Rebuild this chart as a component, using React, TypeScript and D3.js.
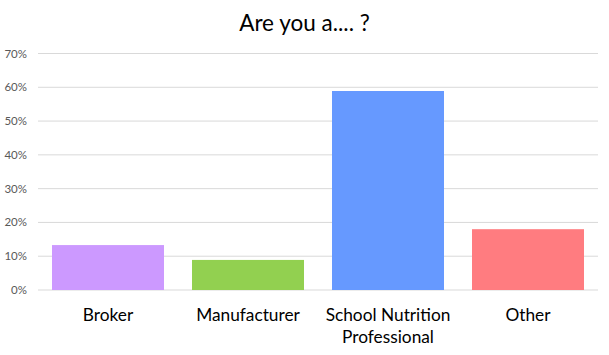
import React from "react";
import * as d3 from "d3";

const categories = ["Broker", "Manufacturer", "School Nutrition Professional", "Other"];
const values = [0.133, 0.089, 0.589, 0.18];
const colors = ["#CC99FF", "#92D050", "#6699FF", "#FF7C80"];
const yTicks = [0, 0.1, 0.2, 0.3, 0.4, 0.5, 0.6, 0.7];
const labelLines: Record<string, string[]> = {
  "School Nutrition Professional": ["School Nutrition", "Professional"],
};

export default function App() {
  const W = 609, H = 355;
  const left = 38, right = 598, top = 53.5, bottom = 290;
  const x = d3.scaleBand<string>().domain(categories).range([left, right]).paddingInner(0.2).paddingOuter(0.1);
  const y = d3.scaleLinear().domain([0, 0.7]).range([bottom, top]);
  const fmt = d3.format(".0%");
  const font = "Lato, 'Open Sans', sans-serif";
  return (
    <svg width={W} height={H} style={{ position: "absolute", left: 0, top: 0, background: "#fff" }} fontFamily={font}>
      <text x={W / 2} y={31} textAnchor="middle" fontSize={22.5} fill="#000">Are you a.... ?</text>
      {yTicks.map((t) => (
        <g key={t}>
          <line x1={left} x2={right} y1={y(t)} y2={y(t)} stroke="#D9D9D9" strokeWidth={1} />
          <text x={27} y={y(t) + 4} textAnchor="end" fontSize={11.5} fill="#595959">{fmt(t)}</text>
        </g>
      ))}
      {categories.map((c, i) => (
        <rect key={c} x={x(c)} y={y(values[i])} width={x.bandwidth()} height={bottom - y(values[i])} fill={colors[i]} />
      ))}
      {categories.map((c) => {
        const lines = labelLines[c] || [c];
        return (
          <text key={c} textAnchor="middle" fontSize={17.3} fill="#000">
            {lines.map((l, j) => (
              <tspan key={j} x={(x(c) as number) + x.bandwidth() / 2} y={321 + j * 22}>{l}</tspan>
            ))}
          </text>
        );
      })}
    </svg>
  );
}
